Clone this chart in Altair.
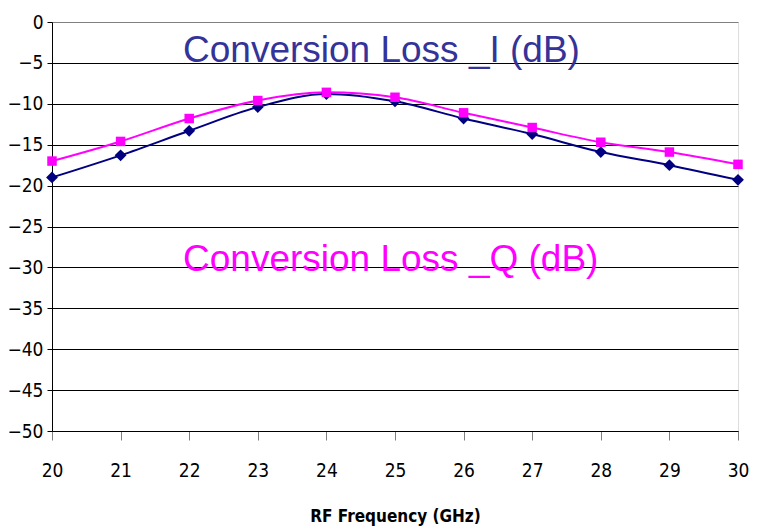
import altair as alt
import pandas as pd

freq = [20, 21, 22, 23, 24, 25, 26, 27, 28, 29, 30]
loss_i = [-19.0, -16.3, -13.3, -10.4, -8.8, -9.7, -11.8, -13.7, -15.9, -17.5, -19.3]
loss_q = [-17.0, -14.6, -11.8, -9.6, -8.6, -9.2, -11.1, -12.9, -14.7, -15.9, -17.4]

label_i = "Conversion Loss _I (dB)"
label_q = "Conversion Loss _Q (dB)"

df = pd.DataFrame({
    "freq": freq * 2,
    "loss": loss_i + loss_q,
    "series": ["I"] * len(freq) + ["Q"] * len(freq),
})
ann = pd.DataFrame({"text": [label_i, label_q], "series": ["I", "Q"], "fx": [21.91, 21.91], "fy": [-4.85, -30.4]})

NARROW = "Liberation Sans Narrow, DejaVu Sans Condensed, Liberation Sans, Arial"

x = alt.X("freq:Q", scale=alt.Scale(domain=[20, 30], nice=False, zero=False),
          axis=alt.Axis(values=freq, format="d", title="RF Frequency (GHz)", grid=False,
                        tickSize=9, tickColor="#808080", domainColor="#000000",
                        labelFont=NARROW, labelFontSize=19, labelColor="black",
                        labelPadding=21, titleFont=NARROW, titleFontSize=17,
                        titleFontWeight="bold", titleColor="black", titlePadding=28,
                        labelFlush=False))
y = alt.Y("loss:Q", scale=alt.Scale(domain=[-50, 0], nice=False),
          axis=alt.Axis(values=list(range(-50, 1, 5)), format="d", title=None,
                        gridColor={"condition": {"test": "datum.value === 0", "value": "#808080"}, "value": "#000000"},
                        gridWidth=1, tickSize=5, tickColor="#000000",
                        domainColor="#000000", labelFont=NARROW, labelFontSize=19,
                        labelColor="black", labelPadding=4))

color = alt.Color("series:N", scale=alt.Scale(domain=["I", "Q"], range=["#000080", "#FF00FF"]), legend=None)
shape = alt.Shape("series:N", scale=alt.Scale(domain=["I", "Q"], range=["diamond", "square"]), legend=None)
size = alt.Size("series:N", scale=alt.Scale(domain=["I", "Q"], range=[140, 90]), legend=None)

lines = alt.Chart(df).mark_line(interpolate="monotone", strokeWidth=2).encode(x=x, y=y, color=color)
points = alt.Chart(df).mark_point(filled=True, opacity=1).encode(x=x, y=y, color=color, shape=shape, size=size)

text = alt.Chart(ann).mark_text(font="Liberation Sans, Arial", fontSize=37,
                                align="left", baseline="alphabetic").encode(
    x=alt.X("fx:Q"), y=alt.Y("fy:Q"), text="text:N",
    color=alt.Color("series:N", scale=alt.Scale(domain=["I", "Q"], range=["#333399", "#FF00FF"]), legend=None))

chart = alt.layer(lines, points, text).resolve_scale(color="independent").properties(
    width=686, height=409,
    autosize=alt.AutoSizeParams(type="none"),
    padding={"left": 44, "top": 14, "right": 14, "bottom": 98},
).configure_view(stroke="#808080", strokeWidth=1).configure(background="white")

chart.save("out.html", embed_options={"renderer": "svg", "actions": False})
